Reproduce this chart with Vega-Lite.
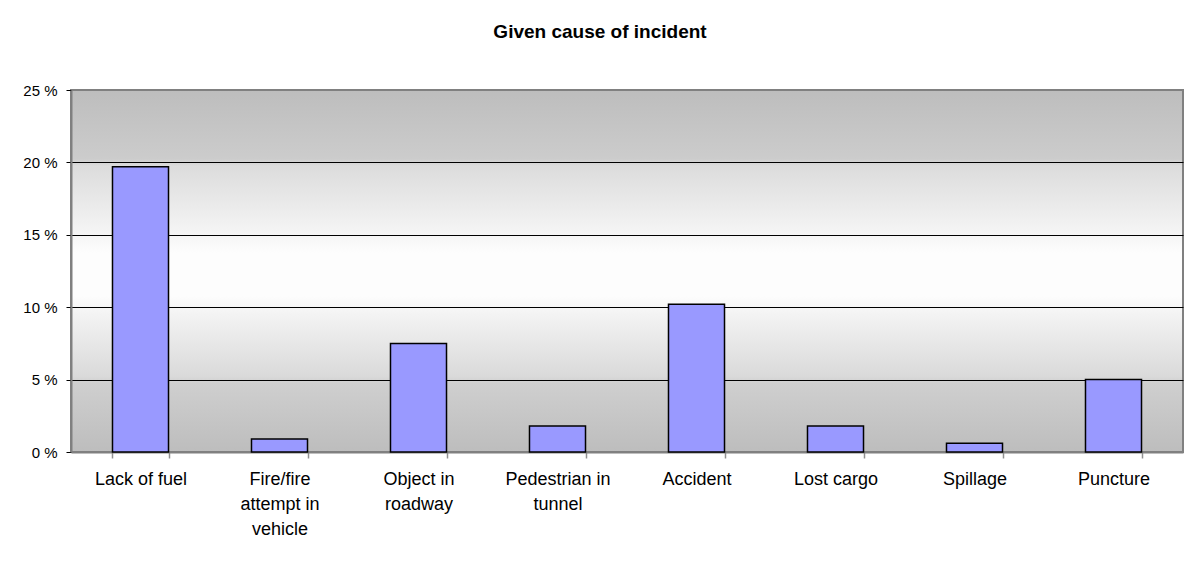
{
  "$schema": "https://vega.github.io/schema/vega-lite/v6.json",
  "autosize": "none",
  "width": 1112,
  "height": 362,
  "padding": {"left": 71, "top": 90, "right": 14, "bottom": 111},
  "background": "white",
  "title": {
    "text": "Given cause of incident",
    "font": "Liberation Sans",
    "fontSize": 19,
    "fontWeight": "bold",
    "color": "black",
    "anchor": "middle",
    "offset": 41,
    "dx": -27
  },
  "data": {
    "values": [
      {"cause": "Lack of fuel", "share": 19.7},
      {"cause": "Fire/fire attempt in vehicle", "share": 0.9},
      {"cause": "Object in roadway", "share": 7.5},
      {"cause": "Pedestrian in tunnel", "share": 1.8},
      {"cause": "Accident", "share": 10.2},
      {"cause": "Lost cargo", "share": 1.8},
      {"cause": "Spillage", "share": 0.6},
      {"cause": "Puncture", "share": 5.0}
    ]
  },
  "mark": {"type": "bar", "fill": "#9999ff", "stroke": "black", "strokeWidth": 1.5},
  "encoding": {
    "x": {
      "field": "cause",
      "type": "nominal",
      "sort": null,
      "scale": {"paddingInner": 0.597, "paddingOuter": 0.2985},
      "axis": {
        "title": null,
        "labelAngle": 0,
        "labelFont": "Liberation Sans",
        "labelFontSize": 18,
        "labelColor": "black",
        "labelLineHeight": 25,
        "labelPadding": 12,
        "labelBaseline": "top",
        "labelExpr": "datum.value == 'Fire/fire attempt in vehicle' ? ['Fire/fire', 'attempt in', 'vehicle'] : datum.value == 'Object in roadway' ? ['Object in', 'roadway'] : datum.value == 'Pedestrian in tunnel' ? ['Pedestrian in', 'tunnel'] : datum.label",
        "tickBand": "extent",
        "tickColor": "#909090",
        "tickSize": 6,
        "tickWidth": 1.5,
        "domainColor": "#808080",
        "domainWidth": 2
      }
    },
    "y": {
      "field": "share",
      "type": "quantitative",
      "scale": {"domain": [0, 25], "nice": false},
      "axis": {
        "title": null,
        "values": [0, 5, 10, 15, 20, 25],
        "labelExpr": "datum.value + ' %'",
        "labelFont": "Liberation Sans",
        "labelFontSize": 15,
        "labelColor": "black",
        "labelPadding": 9,
        "tickSize": 5,
        "tickColor": "black",
        "grid": true,
        "gridColor": {"condition": {"test": "datum.value == 0 || datum.value == 25", "value": "#808080"}, "value": "black"},
        "gridWidth": 1,
        "domainColor": "#808080",
        "domainWidth": 2
      }
    }
  },
  "config": {
    "view": {
      "stroke": "#808080",
      "strokeWidth": 2,
      "fill": {
        "gradient": "linear",
        "x1": 0, "y1": 0, "x2": 0, "y2": 1,
        "stops": [
          {"offset": 0, "color": "#bdbdbd"},
          {"offset": 0.19, "color": "#cccccc"},
          {"offset": 0.21, "color": "#dcdcdc"},
          {"offset": 0.39, "color": "#f4f4f4"},
          {"offset": 0.45, "color": "#fdfdfd"},
          {"offset": 0.57, "color": "#fdfdfd"},
          {"offset": 0.62, "color": "#f3f3f3"},
          {"offset": 0.79, "color": "#dadada"},
          {"offset": 0.81, "color": "#cfcfcf"},
          {"offset": 1, "color": "#bdbdbd"}
        ]
      }
    }
  }
}
